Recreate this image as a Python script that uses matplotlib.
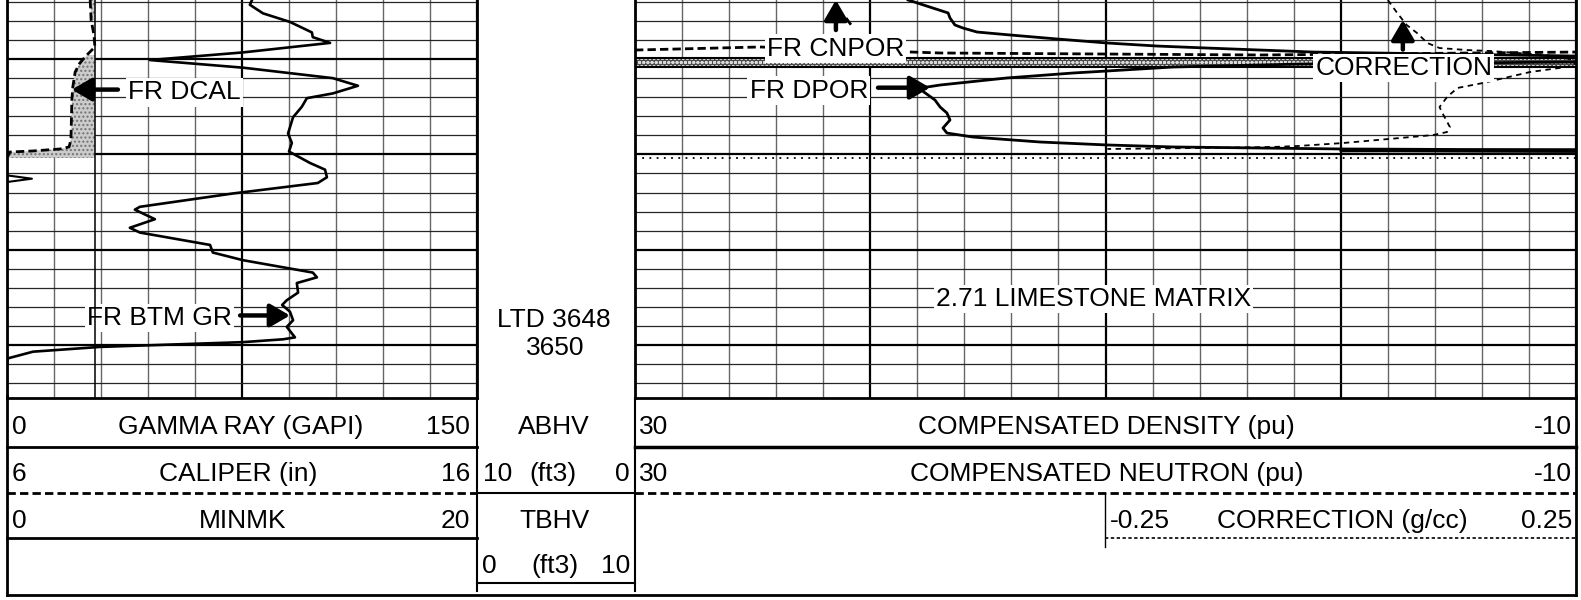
import matplotlib.pyplot as plt
import numpy as np
from matplotlib.lines import Line2D

plt.rcParams['font.family'] = ['Liberation Sans', 'DejaVu Sans']

W, H = 1581, 600

# depth window shown (ft)
top_depth = 3613.8
bottom_depth = 3655.56

# track scales (left value, right value)
gr_scale = (0, 150)
cal_scale = (6, 16)
mk_scale = (0, 20)
por_scale = (30, -10)
corr_scale = (-0.25, 0.25)
bhv_scale = (10, 0)
tbhv_scale = (0, 10)

# gamma ray (GAPI)
gr_depth = [3613.8, 3614.3, 3615.2, 3616.1, 3617.2, 3617.7, 3618.3, 3619.3, 3620.1, 3620.9,
            3622.0, 3622.8, 3623.6, 3624.1, 3625.0, 3626.1, 3627.8, 3628.8, 3629.7, 3630.9,
            3631.6, 3632.4, 3633.0, 3634.1, 3635.5, 3635.8, 3636.8, 3637.7, 3638.2, 3639.5,
            3640.3, 3641.1, 3642.4, 3642.9, 3643.5, 3644.5, 3645.3, 3645.8, 3646.5, 3647.4,
            3648.1, 3649.2, 3649.4, 3649.7, 3650.2, 3650.7, 3651.4, 3652.0]
gr = [78.2, 77.5, 81.7, 90.3, 97.3, 97.6, 103.1, 75.3, 45.6, 75.3,
      104.0, 112.0, 104.0, 95.7, 94.1, 91.3, 89.7, 90.9, 90.0, 96.7,
      101.5, 102.1, 99.2, 72.1, 42.4, 40.8, 47.2, 39.2, 42.4, 64.8,
      65.7, 75.3, 97.6, 98.9, 92.5, 92.9, 89.3, 87.8, 90.3, 91.3,
      89.3, 91.9, 88.1, 75.3, 29.7, 8.3, 0.3, 0.0]

# caliper (in) and bit size
cal_depth = [3613.8, 3615.9, 3617.47, 3618.73, 3619.57, 3620.41, 3621.36, 3622.93, 3624.29,
             3628.49, 3629.22, 3629.43, 3629.64, 3629.75, 3630.38]
cal = [7.77, 7.79, 7.85, 7.87, 7.70, 7.55, 7.45, 7.40, 7.38,
       7.36, 7.32, 7.13, 6.55, 6.06, 6.0]
bit_size = 7.875

# MINMK
mk_depth = [3613.8, 3632.2, 3632.55, 3632.9, 3655.5]
minmk = [0, 0, 1.06, 0, 0]

# density porosity (pu)
dpor_depth = [3613.80, 3615.16, 3615.69, 3616.42, 3616.74, 3617.16, 3617.47, 3617.89, 3618.31,
              3618.63, 3618.84, 3619.05, 3619.26, 3619.68, 3620.31, 3620.52, 3620.62, 3620.83,
              3621.25, 3621.46, 3621.98, 3622.72, 3623.03, 3623.24, 3624.29, 3625.03, 3625.66,
              3626.39, 3627.23, 3627.76, 3628.18, 3628.70, 3629.01, 3629.22, 3629.33, 3629.43,
              3629.54, 3629.62, 3629.70]
dpor = [18.39, 16.69, 16.61, 16.40, 16.06, 15.46, 14.06, 12.06, 9.94,
        7.81, 5.68, 3.43, 1.18, -10.0, -10.0, 1.73, 3.43, 7.13,
        9.94, 11.38, 14.19, 17.03, 17.84, 17.84, 17.25, 17.03, 16.74,
        16.61, 16.91, 16.74, 15.63, 12.78, 9.94, 7.13, 3.43, 0.03,
        -10.0, 0.0, -10.0]

# neutron porosity (pu), gap = break
cnpor_depth = [3615.69, 3616.53, np.nan, 3619.05, 3618.73, 3619.36, 3619.57, 3619.26]
cnpor = [21.03, 20.78, np.nan, 30.0, 24.69, 17.03, 3.43, -10.0]

# density correction (g/cc)
corr_depth = [3613.80, 3615.16, 3616.42, 3617.26, 3618.31, 3618.84, 3619.05, 3619.15, 3619.57,
              3620.10, 3620.73, 3621.36, 3622.51, 3623.03, 3623.98, 3625.03, 3625.66, 3627.13,
              3627.65, 3627.97, 3628.28, 3628.81, 3629.12, 3629.22, 3629.33, 3629.43]
corr = [0.050, 0.060, 0.070, 0.081, 0.092, 0.105, 0.134, 0.159, 0.217,
        0.250, 0.247, 0.201, 0.151, 0.124, 0.113, 0.105, 0.108, 0.116,
        0.113, 0.098, 0.063, 0.002, -0.046, -0.072, -0.150, -0.248]

# wrapped-curve band and flag line in porosity track
band_top, band_bot = 3619.85, 3620.85
flag_depth = 3630.35

ltd = 3648
depth_label = 3650

fig = plt.figure(figsize=(W / 100, H / 100), dpi=100)


def px_axes(x0, x1, y0, y1):
    return fig.add_axes([x0 / W, 1 - y1 / H, (x1 - x0) / W, (y1 - y0) / H])


def style_track(ax, xmaj, xmin):
    ax.set_ylim(bottom_depth, top_depth)
    ax.set_xticks(xmaj)
    ax.set_xticks(xmin, minor=True)
    ax.set_yticks(np.arange(3620, 3651, 10))
    ax.set_yticks(np.arange(3614, 3656, 2), minor=True)
    ax.xaxis.grid(True, which='major', color='k', lw=1.6)
    ax.xaxis.grid(True, which='minor', color='0.4', lw=1.0)
    ax.yaxis.grid(True, which='major', color='k', lw=1.6)
    ax.yaxis.grid(True, which='minor', color='0.15', lw=0.9)
    ax.tick_params(which='both', length=0, labelbottom=False, labelleft=False)
    ax.set_axisbelow(True)
    for s in ['left', 'right', 'bottom']:
        ax.spines[s].set_linewidth(2)
    ax.spines['top'].set_visible(False)


def overlay(ax, lim):
    a = ax.twiny()
    a.set_xlim(*lim)
    a.set_ylim(bottom_depth, top_depth)
    a.set_axis_off()
    return a


arrow_kw = dict(arrowstyle='-|>,head_length=0.6,head_width=0.35', color='k', lw=3.2,
                mutation_scale=20, shrinkA=0, shrinkB=0)
box = dict(fc='white', ec='none', pad=1.5)
fs = 19
dy = 0.3  # small baseline nudge (ft) for in-track labels

# ---- left track: GR / caliper / MINMK
ax_l = px_axes(7, 477, 0, 398)
ax_l.set_xlim(*gr_scale)
style_track(ax_l, [0, 75, 150], np.arange(15, 150, 15))
ax_l.plot(gr, gr_depth, color='k', lw=1.9)
ax_l.text(71.8, 3646.9 + dy, 'FR BTM GR', ha='right', va='center', fontsize=fs, bbox=box)
ax_l.annotate('', xy=(90.3, 3646.9), xytext=(74.4, 3646.9), arrowprops=arrow_kw)

ax_c = overlay(ax_l, cal_scale)
cal_a = np.array(cal)
ax_c.fill_betweenx(cal_depth, cal_a, bit_size, where=cal_a < bit_size - 0.05,
                   facecolor='0.8', edgecolor='0.45', hatch='....', lw=0)
ax_c.axvline(bit_size, color='k', lw=1.1)
ax_c.plot(cal, cal_depth, color='k', lw=2, ls=(0, (3, 1.5)))
ax_c.text(8.57, 3623.2 + dy, 'FR DCAL', ha='left', va='center', fontsize=fs, bbox=box)
ax_c.annotate('', xy=(7.38, 3623.2), xytext=(8.36, 3623.2), arrowprops=arrow_kw)

ax_m = overlay(ax_l, mk_scale)
ax_m.plot(minmk, mk_depth, color='k', lw=1.5)

# ---- right track: porosity / correction
ax_r = px_axes(635, 1576, 0, 398)
ax_r.set_xlim(*por_scale)
style_track(ax_r, [30, 20, 10, 0, -10], np.arange(28, -10, -2))
ax_r.axhspan(band_top, band_bot, facecolor='0.3', edgecolor='0.85', hatch='oooo', lw=0)
ax_r.axhline(band_top, color='k', lw=1.5)
ax_r.axhline(band_bot, color='k', lw=1.5)
ax_r.axhline(flag_depth, color='k', lw=1.3, ls=(0, (1, 3)))
ax_r.plot(dpor, dpor_depth, color='k', lw=2)
ax_r.plot(cnpor, cnpor_depth, color='k', lw=2, ls=(0, (3, 1.5)))
ax_r.text(24.39, 3618.6 + dy, 'FR CNPOR', ha='left', va='center', fontsize=fs, bbox=box)
ax_r.annotate('', xy=(21.46, 3613.8), xytext=(21.46, 3616.95), arrowprops=arrow_kw)
ax_r.text(20.10, 3623.0 + dy, 'FR DPOR', ha='right', va='center', fontsize=fs, bbox=box)
ax_r.annotate('', xy=(17.46, 3623.0), xytext=(19.67, 3623.0), arrowprops=arrow_kw)
ax_r.text(17.2, 3644.9 + dy, '2.71 LIMESTONE MATRIX', ha='left', va='center', fontsize=fs, bbox=box)

ax_k = overlay(ax_r, (-0.75, 0.25))
ax_k.plot(corr, corr_depth, color='k', lw=1.3, ls=(0, (3, 2.5)))
ax_k.text(-0.027, 3620.6 + dy, 'CORRECTION', ha='left', va='center', fontsize=fs, bbox=box)
ax_k.annotate('', xy=(0.066, 3615.9), xytext=(0.066, 3619.0), arrowprops=arrow_kw)


# ---- header / depth column helpers (pixel positions)
def hl(x0, x1, y, **kw):
    fig.add_artist(Line2D([x0 / W, x1 / W], [1 - y / H] * 2, transform=fig.transFigure, color='k', **kw))


def vl(x, y0, y1, **kw):
    fig.add_artist(Line2D([x / W] * 2, [1 - y0 / H, 1 - y1 / H], transform=fig.transFigure, color='k', **kw))


def ftxt(x, y, s, ha='center'):
    fig.text(x / W, 1 - (y + 3) / H, s, ha=ha, va='center', fontsize=fs)


ftxt(554, 317, f'LTD {ltd}')
ftxt(555, 345, f'{depth_label}')

dash = (0, (3, 1.5))
hl(7, 477, 447, lw=2)
hl(635, 1576, 447, lw=2.5)
hl(7, 477, 493, lw=2, ls=dash)
hl(635, 1576, 493, lw=2, ls=dash)
hl(477, 635, 493, lw=1.5)
hl(7, 477, 538, lw=2)
hl(1105, 1576, 538, lw=1.2, ls=(0, (2, 1.5)))
vl(1105, 493, 547, lw=1)
hl(477, 635, 583, lw=1.5)
vl(477, 398, 591, lw=1.5)
vl(635, 398, 591, lw=1.5)
vl(7, 396, 595, lw=2)
vl(1576, 396, 595, lw=2)
hl(7, 1576, 595, lw=2)

ftxt(12, 424, f'{gr_scale[0]}', 'left')
ftxt(241, 424, 'GAMMA RAY (GAPI)')
ftxt(470, 424, f'{gr_scale[1]}', 'right')
ftxt(12, 471, f'{cal_scale[0]}', 'left')
ftxt(238, 471, 'CALIPER (in)')
ftxt(470, 471, f'{cal_scale[1]}', 'right')
ftxt(12, 518, f'{mk_scale[0]}', 'left')
ftxt(243, 518, 'MINMK')
ftxt(470, 518, f'{mk_scale[1]}', 'right')

ftxt(554, 424, 'ABHV')
ftxt(483, 471, f'{bhv_scale[0]}', 'left')
ftxt(553, 471, '(ft3)')
ftxt(630, 471, f'{bhv_scale[1]}', 'right')
ftxt(554, 518, 'TBHV')
ftxt(482, 563, f'{tbhv_scale[0]}', 'left')
ftxt(555, 563, '(ft3)')
ftxt(630, 563, f'{tbhv_scale[1]}', 'right')

ftxt(639, 424, f'{por_scale[0]}', 'left')
ftxt(1106, 424, 'COMPENSATED DENSITY (pu)')
ftxt(1572, 424, f'{por_scale[1]}', 'right')
ftxt(639, 471, f'{por_scale[0]}', 'left')
ftxt(1107, 471, 'COMPENSATED NEUTRON (pu)')
ftxt(1572, 471, f'{por_scale[1]}', 'right')
ftxt(1110, 518, f'{corr_scale[0]}', 'left')
ftxt(1342, 518, 'CORRECTION (g/cc)')
ftxt(1572, 518, f'{corr_scale[1]}', 'right')

fig.savefig('out.png', dpi=100)
